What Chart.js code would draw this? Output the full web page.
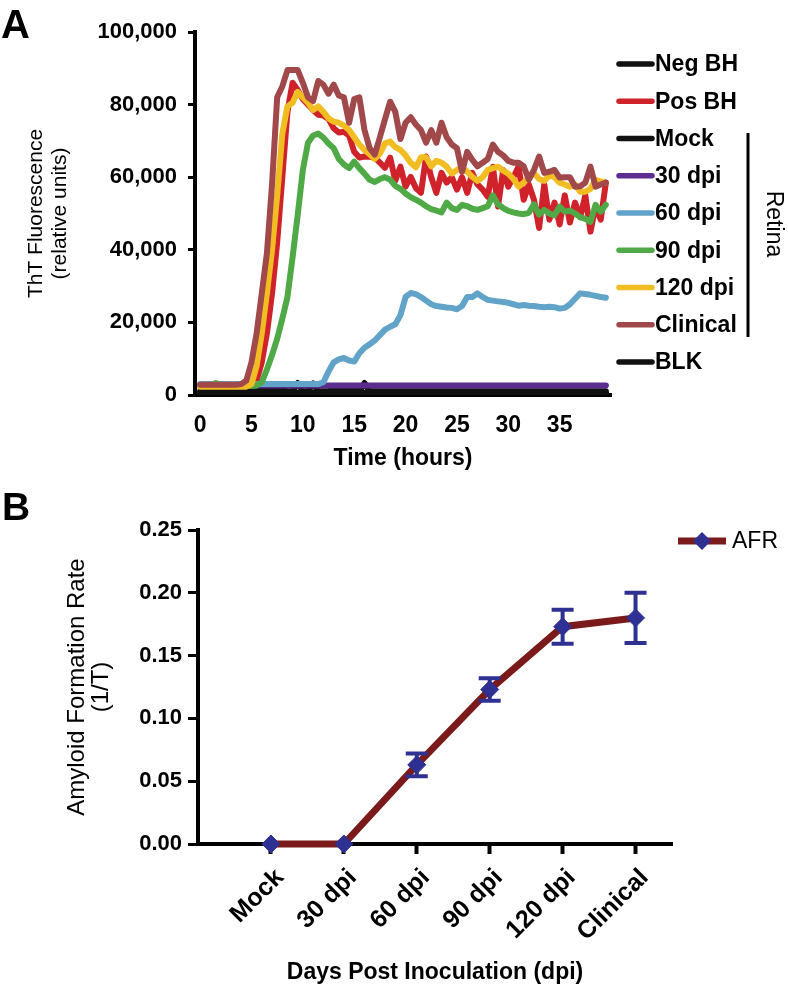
<!DOCTYPE html>
<html><head><meta charset="utf-8">
<script src="https://cdn.jsdelivr.net/npm/chart.js@4/dist/chart.umd.min.js"></script>
<style>
html,body{margin:0;padding:0;background:#fff;}
#wrap{position:relative;width:788px;height:987px;overflow:hidden;}
.box{position:absolute;left:0;}
</style></head><body>
<div id="wrap">
<div class="box" style="top:0;width:788px;height:480px"><canvas id="ca" width="788" height="480"></canvas></div>
<div class="box" style="top:480px;width:788px;height:507px"><canvas id="cb" width="788" height="507"></canvas></div>
</div>
<script>
// ---------- Panel A data ----------
const timeHours = [
 0,0.5,1,1.5,2,2.5,3,3.5,4,4.5,
 5,5.5,6,6.5,7,7.5,8,8.5,9,9.5,
 10,10.5,11,11.5,12,12.5,13,13.5,14,14.5,
 15,15.5,16,16.5,17,17.5,18,18.5,19,19.5,
 20,20.5,21,21.5,22,22.5,23,23.5,24,24.5,
 25,25.5,26,26.5,27,27.5,28,28.5,29,29.5,
 30,30.5,31,31.5,32,32.5,33,33.5,34,34.5,
 35,35.5,36,36.5,37,37.5,38,38.5,39,39.5];
const negBH = [
 600,600,600,600,600,600,600,600,600,600,
 600,600,600,600,600,600,600,600,600,600,
 600,600,600,600,600,600,600,600,600,600,
 600,600,600,600,600,600,600,600,600,600,
 600,600,600,600,600,600,600,600,600,600,
 600,600,600,600,600,600,600,600,600,600,
 600,600,600,600,600,600,600,600,600,600,
 600,600,600,600,600,600,600,600,600,600];
const posBH = [
 2300,2300,2300,2300,2300,2300,2300,2300,2300,2300,
 2300,4000,9000,17000,28000,42000,60000,78000,86000,84000,
 81500,80000,78500,77200,77000,76000,73500,72300,72500,71500,
 67000,65400,65700,65600,65400,64000,62600,65400,59000,62900,
 57400,60100,57000,55700,65700,60000,55700,61200,58500,60000,
 56600,60000,55700,61200,58000,56600,54600,62900,51900,62000,
 57400,60000,62900,53800,58000,53800,46000,58000,48300,53000,
 47000,55000,47500,53000,49000,55000,45000,52000,48300,58500];
const mock = [
 1000,1000,1000,1000,1000,1000,1000,1000,1000,1500,
 1800,1000,1600,1000,1800,1000,1500,1000,1000,3300,
 1000,1000,3200,1000,1000,1000,1800,1000,1900,1000,
 1700,1000,3300,1000,1000,1000,1000,1000,1000,1000,
 1000,1000,1000,1000,1000,1000,1000,1000,1000,1000,
 1000,1000,1000,1000,1000,1000,1000,1000,1000,1000,
 1000,1000,1000,1000,1000,1000,1000,1000,1000,1000,
 1000,1000,1000,1000,1000,1000,1000,1000,1000,1000];
const dpi30 = [
 2600,2600,2600,2600,2600,2600,2600,2600,2600,2600,
 2600,2600,2600,2600,2600,2600,2600,2600,2600,2600,
 2600,2600,2600,2600,2600,2600,2600,2600,2600,2600,
 2600,2600,2600,2600,2600,2600,2600,2600,2600,2600,
 2600,2600,2600,2600,2600,2600,2600,2600,2600,2600,
 2600,2600,2600,2600,2600,2600,2600,2600,2600,2600,
 2600,2600,2600,2600,2600,2600,2600,2600,2600,2600,
 2600,2600,2600,2600,2600,2600,2600,2600,2600,2600];
const dpi60 = [
 3000,3000,3000,3000,3000,3000,3000,3000,3000,3000,
 3000,3000,3000,3000,3000,3000,3000,3000,3000,3000,
 3000,3000,3000,3000,3500,6500,9000,9800,10200,9500,
 9200,11500,13000,14000,15000,16500,18000,18800,19500,22000,
 27000,28100,27800,27000,26000,25000,24500,24300,24100,24000,
 23600,24500,27000,27000,28000,27000,26200,26000,25800,25600,
 25400,25000,24600,24800,24600,24500,24300,24200,24300,24200,
 23800,24000,25000,26500,28000,27800,27600,27300,27000,26800];
const dpi90 = [
 2500,2500,2500,3300,2800,2500,2500,2500,2500,2500,
 2500,2600,3500,7000,11000,15500,21000,27000,38000,49600,
 62000,69500,71500,72000,70900,69300,68000,65000,63500,62500,
 64300,62500,61000,59300,58700,59500,60000,59300,57600,56800,
 55500,54500,53800,53000,52000,51200,50800,50300,53000,51500,
 51000,52400,52000,51300,51000,51500,52000,55000,52500,51500,
 50700,50300,50000,49800,50200,52500,49700,51000,50000,49500,
 51900,50500,50800,50000,49000,48500,47700,52400,50500,52400];
const dpi120 = [
 2300,2300,2300,2300,2300,2300,2300,2300,2300,2300,
 3000,8000,17000,28000,40000,55000,72000,79500,80500,83500,
 82000,80500,78500,79500,78000,76200,75300,75000,74200,73000,
 71000,69000,67500,66300,65000,66500,69300,69800,68300,67500,
 66000,64000,62700,65500,65500,63000,64500,64000,62900,61000,
 62000,62900,61500,60100,59000,60000,62000,62500,62900,61800,
 61000,59500,57400,58500,60000,61200,59500,59000,60500,60000,
 58500,58000,57400,58000,56000,56000,56800,59300,58800,58500];
const clinical = [
 2800,2800,2800,2800,2800,2800,2800,2800,3000,4000,
 9000,17000,28000,39000,58000,82000,85000,89500,89500,89500,
 86000,82000,81000,86500,85500,83000,85500,82500,82000,75000,
 81500,82000,73000,68000,66200,71000,76000,80800,78000,70500,
 75000,76500,74500,73000,69500,73000,69500,75000,71000,69000,
 68000,61500,67000,64800,63000,64000,65000,69000,67000,66000,
 64500,64000,64000,63000,59300,62000,65700,61200,61500,62000,
 59900,60000,60000,57400,57500,58500,62900,57400,58000,58500];
const blk = [
 400,400,400,400,400,400,400,400,400,400,
 400,400,400,400,400,400,400,400,400,400,
 400,400,400,400,400,400,400,400,400,400,
 400,400,400,400,400,400,400,400,400,400,
 400,400,400,400,400,400,400,400,400,400,
 400,400,400,400,400,400,400,400,400,400,
 400,400,400,400,400,400,400,400,400,400,
 400,400,400,400,400,400,400,400,400,400];
const seriesNames = ['Neg BH','Pos BH','Mock','30 dpi','60 dpi','90 dpi','120 dpi','Clinical','BLK'];
const seriesValues = [negBH, posBH, mock, dpi30, dpi60, dpi90, dpi120, clinical, blk];
const seriesColors = ['#111111','#d0222a','#111111','#5b2d8e','#62a3c9','#4ea946','#f2bd22','#a0484a','#111111'];
const xTicksA = [0,5,10,15,20,25,30,35];
const yTicksA = [0,20000,40000,60000,80000,100000];

// ---------- Panel B data ----------
const dpiLabels = ['Mock','30 dpi','60 dpi','90 dpi','120 dpi','Clinical'];
const dpiPositions = [1,2,3,4,5,6];
const afrValues = [0,0,0.063,0.123,0.173,0.180];
const afrErrors = [0,0,0.009,0.009,0.0135,0.020];
const yTicksB = [0,0.05,0.10,0.15,0.20,0.25];

const FONT = "'Liberation Sans', Arial, Helvetica, sans-serif";
Chart.defaults.font.family = FONT;
Chart.defaults.color = '#000';

const legendA = {
  id: 'legendA',
  afterDraw(chart) {
    const ctx = chart.ctx;
    ctx.save();
    chart.data.datasets.forEach((ds, i) => {
      const y = 64 + i * 37.25;
      ctx.strokeStyle = ds.borderColor; ctx.lineWidth = 5.5; ctx.lineCap = 'round';
      ctx.beginPath(); ctx.moveTo(619, y); ctx.lineTo(652, y); ctx.stroke();
      ctx.fillStyle = '#000'; ctx.font = 'bold 23px ' + FONT;
      ctx.textBaseline = 'middle'; ctx.textAlign = 'left';
      ctx.fillText(ds.label, 655, y + 1);
    });
    ctx.lineCap = 'butt'; ctx.lineWidth = 3; ctx.strokeStyle = '#000';
    ctx.beginPath(); ctx.moveTo(748, 133); ctx.lineTo(748, 337); ctx.stroke();
    ctx.save();
    ctx.translate(773, 224); ctx.rotate(Math.PI / 2);
    ctx.font = '23px ' + FONT; ctx.textAlign = 'center'; ctx.textBaseline = 'middle';
    ctx.fillText('Retina', 0, 0);
    ctx.restore();
    ctx.font = 'bold 40px ' + FONT; ctx.textAlign = 'left'; ctx.textBaseline = 'alphabetic';
    ctx.fillText('A', 1, 38);
    ctx.restore();
  }
};

new Chart(document.getElementById('ca'), {
  type: 'line',
  data: {
    datasets: seriesNames.map((n, i) => ({
      label: n,
      data: timeHours.map((t, j) => ({ x: t, y: seriesValues[i][j] })),
      borderColor: seriesColors[i], backgroundColor: seriesColors[i],
      borderWidth: 6, pointRadius: 0, tension: 0, fill: false,
      borderJoinStyle: 'round', borderCapStyle: 'round',
      order: seriesNames.length - i
    }))
  },
  options: {
    responsive: false, animation: false, events: [],
    layout: { padding: { top: 32, right: 177, bottom: 0, left: 0 } },
    plugins: { legend: { display: false }, tooltip: { enabled: false } },
    scales: {
      x: {
        type: 'linear', min: -0.5, max: 40,
        afterBuildTicks: s => { s.ticks = xTicksA.map(v => ({ value: v })); },
        afterFit: s => { s.height = 85; },
        grid: { display: false },
        border: { display: true, color: '#000', width: 4 },
        ticks: { autoSkip: false, maxRotation: 0, padding: 9, color: '#000', font: { size: 23, weight: 'bold' } },
        title: { display: true, text: 'Time (hours)', color: '#000', font: { size: 23, weight: 'bold' }, padding: { top: 0, bottom: 8 } }
      },
      y: {
        min: 0, max: 100000,
        afterBuildTicks: s => { s.ticks = yTicksA.map(v => ({ value: v })); },
        afterFit: s => { s.width = 195; },
        grid: { display: true, drawOnChartArea: false, drawTicks: true, tickLength: 7, tickWidth: 3, tickColor: '#000' },
        border: { display: true, color: '#000', width: 4 },
        ticks: { padding: 11, color: '#000', font: { size: 22, weight: 'bold' }, callback: v => v.toLocaleString('en-US') },
        title: { display: true, text: ['ThT Fluorescence', '(relative units)'], color: '#000', font: { size: 21, lineHeight: 1.15 }, padding: { top: 24, bottom: 0 } }
      }
    }
  },
  plugins: [legendA]
});

const errorBarsB = {
  id: 'errorBarsB',
  afterDatasetsDraw(chart) {
    const ctx = chart.ctx, xs = chart.scales.x, ys = chart.scales.y;
    ctx.save();
    ctx.strokeStyle = '#2e3192'; ctx.lineWidth = 4; ctx.lineCap = 'butt';
    dpiPositions.forEach((p, i) => {
      if (!afrErrors[i]) return;
      const x = xs.getPixelForValue(p);
      const yTop = ys.getPixelForValue(afrValues[i] + afrErrors[i]);
      const yBot = ys.getPixelForValue(afrValues[i] - afrErrors[i]);
      ctx.beginPath();
      ctx.moveTo(x, yTop); ctx.lineTo(x, yBot);
      ctx.moveTo(x - 11, yTop); ctx.lineTo(x + 11, yTop);
      ctx.moveTo(x - 11, yBot); ctx.lineTo(x + 11, yBot);
      ctx.stroke();
    });
    ctx.restore();
  }
};
const legendB = {
  id: 'legendB',
  afterDraw(chart) {
    const ctx = chart.ctx, ds = chart.data.datasets[0];
    ctx.save();
    const y = 61;
    ctx.strokeStyle = ds.borderColor; ctx.lineWidth = 7; ctx.lineCap = 'butt';
    ctx.beginPath(); ctx.moveTo(678, y); ctx.lineTo(726, y); ctx.stroke();
    ctx.fillStyle = ds.pointBackgroundColor;
    ctx.beginPath(); ctx.moveTo(702, y - 9); ctx.lineTo(711, y); ctx.lineTo(702, y + 9); ctx.lineTo(693, y); ctx.closePath(); ctx.fill();
    ctx.fillStyle = '#000'; ctx.font = '23px ' + FONT; ctx.textAlign = 'left'; ctx.textBaseline = 'middle';
    ctx.fillText(ds.label, 732, y + 1);
    ctx.font = 'bold 39px ' + FONT; ctx.textBaseline = 'alphabetic';
    ctx.fillText('B', 2, 40);
    ctx.restore();
  }
};

new Chart(document.getElementById('cb'), {
  type: 'line',
  data: {
    datasets: [{
      label: 'AFR',
      data: dpiPositions.map((p, i) => ({ x: p, y: afrValues[i] })),
      borderColor: '#7b1a1a', borderWidth: 7, tension: 0, fill: false,
      pointStyle: 'rectRot', pointRadius: 9, pointBackgroundColor: '#2e3192', pointBorderColor: '#2e3192', pointBorderWidth: 1,
      clip: false
    }]
  },
  options: {
    responsive: false, animation: false, events: [],
    layout: { padding: { top: 50, right: 116, bottom: 0, left: 0 } },
    plugins: { legend: { display: false }, tooltip: { enabled: false } },
    scales: {
      x: {
        type: 'linear', min: 0, max: 6.5, z: 1,
        afterBuildTicks: s => { s.ticks = dpiPositions.map(v => ({ value: v })); },
        afterFit: s => { s.height = 143; },
        grid: { display: true, drawOnChartArea: false, drawTicks: true, tickLength: 10, tickWidth: 4, tickColor: '#000' },
        border: { display: true, color: '#000', width: 4 },
        ticks: { autoSkip: false, maxRotation: 45, minRotation: 45, padding: 9, labelOffset: 9, color: '#000', font: { size: 25, weight: 'bold' },
                 callback: v => dpiLabels[dpiPositions.indexOf(v)] },
        title: { display: true, text: 'Days Post Inoculation (dpi)', color: '#000', font: { size: 23, weight: 'bold' }, padding: { top: 0, bottom: 1 } }
      },
      y: {
        min: 0, max: 0.25,
        afterBuildTicks: s => { s.ticks = yTicksB.map(v => ({ value: v })); },
        afterFit: s => { s.width = 198; },
        grid: { display: true, drawOnChartArea: false, drawTicks: true, tickLength: 10, tickWidth: 3, tickColor: '#000' },
        border: { display: true, color: '#000', width: 4 },
        ticks: { padding: 6, color: '#000', font: { size: 22, weight: 'bold' }, callback: v => v.toFixed(2) },
        title: { display: true, text: ['Amyloid Formation Rate', '(1/T)'], color: '#000', font: { size: 24, lineHeight: 1.0 }, padding: { top: 65, bottom: 0 } }
      }
    }
  },
  plugins: [errorBarsB, legendB]
});
</script>
</body></html>
